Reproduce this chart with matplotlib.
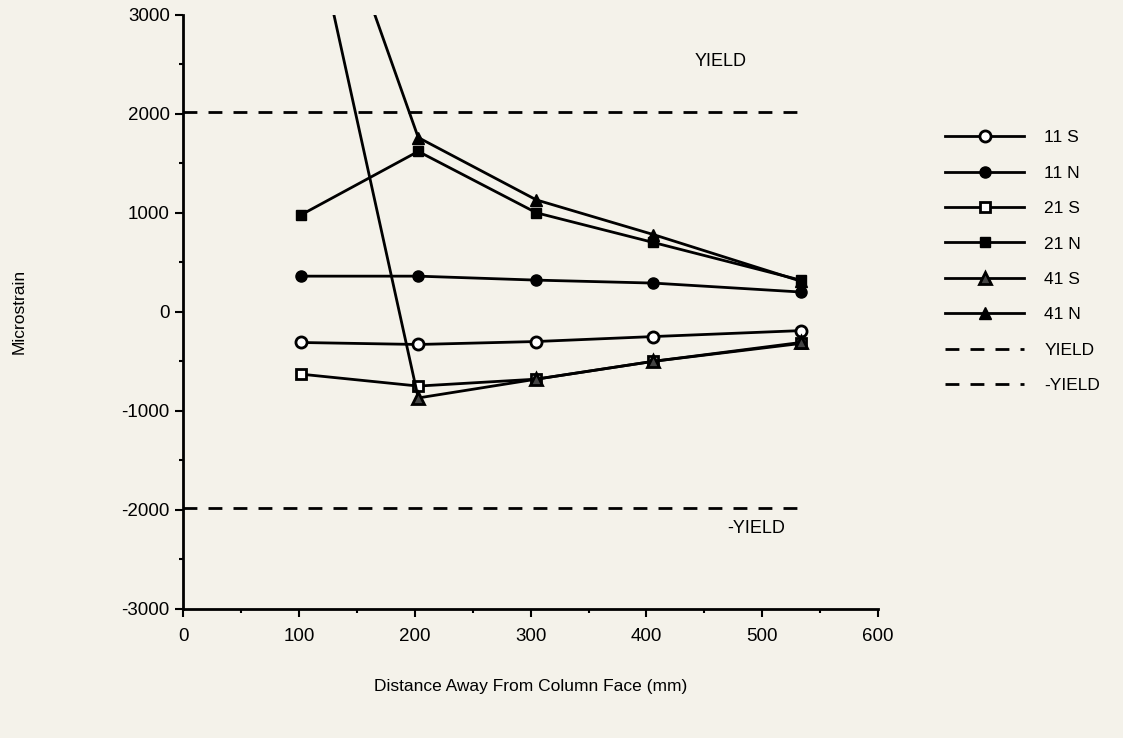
import matplotlib
matplotlib.use("Agg")
import matplotlib.pyplot as plt
from matplotlib.ticker import MultipleLocator

plt.rcParams['font.family'] = ['Liberation Sans', 'DejaVu Sans']
plt.rcParams['axes.unicode_minus'] = False

distance = [102, 203, 305, 406, 533]
s11S = [-310, -330, -300, -250, -190]
s11N = [360, 360, 320, 290, 200]
s21S = [-630, -750, -680, -500, -320]
s21N = [980, 1620, 1000, 700, 320]
s41S = [4500, -870, -680, -500, -310]
s41N = [5100, 1760, 1130, 780, 310]
yield_x = [0, 533]
yield_pos = [2020, 2020]
yield_neg = [-1980, -1980]

bg = '#f4f2ea'
fig = plt.figure(figsize=(11.23, 7.38), dpi=100, facecolor=bg)
ax = fig.add_axes([0.163, 0.175, 0.619, 0.805], facecolor=bg)

lw = 2.0
ms = 8
ax.plot(distance, s11S, '-o', color='black', lw=lw, ms=ms, mfc='white', mew=2, label='11 S')
ax.plot(distance, s11N, '-o', color='black', lw=lw, ms=ms, label='11 N')
ax.plot(distance, s21S, '-s', color='black', lw=lw, ms=7.5, mfc='white', mew=2, label='21 S')
ax.plot(distance, s21N, '-s', color='black', lw=lw, ms=7.5, label='21 N')
ax.plot(distance, s41S, '-^', color='black', lw=lw, ms=8, mfc='#444444', mew=2, label='41 S')
ax.plot(distance, s41N, '-^', color='black', lw=lw, ms=8, label='41 N')
ax.plot(yield_x, yield_pos, '--', color='black', lw=2, dashes=(5, 4), label='YIELD')
ax.plot(yield_x, yield_neg, '--', color='black', lw=2, dashes=(5, 4), label='-YIELD')

ax.text(442, 2530, 'YIELD', fontsize=13, ha='left', va='center')
ax.text(470, -2190, '-YIELD', fontsize=13, ha='left', va='center')

ax.set_xlim(0, 600)
ax.set_ylim(-3000, 3000)
ax.xaxis.set_major_locator(MultipleLocator(100))
ax.xaxis.set_minor_locator(MultipleLocator(50))
ax.yaxis.set_major_locator(MultipleLocator(1000))
ax.yaxis.set_minor_locator(MultipleLocator(500))
ax.tick_params(axis='both', which='major', direction='out', length=6, width=1.5, labelsize=13.5)
ax.tick_params(axis='both', which='minor', direction='out', length=3, width=1.5)
ax.tick_params(axis='x', pad=8)
for sp in ['top', 'right']:
    ax.spines[sp].set_visible(False)
for sp in ['left', 'bottom']:
    ax.spines[sp].set_linewidth(2)

ax.set_xlabel('Distance Away From Column Face (mm)', fontsize=12.5, labelpad=24)
ax.set_ylabel('Microstrain', fontsize=12.5, labelpad=68)

leg = fig.legend(loc='upper left', bbox_to_anchor=(0.828, 0.845), frameon=False,
                 fontsize=12.5, handlelength=4.5, labelspacing=1.17, handletextpad=1.2)

fig.savefig('out.png', dpi=100, facecolor=bg)
